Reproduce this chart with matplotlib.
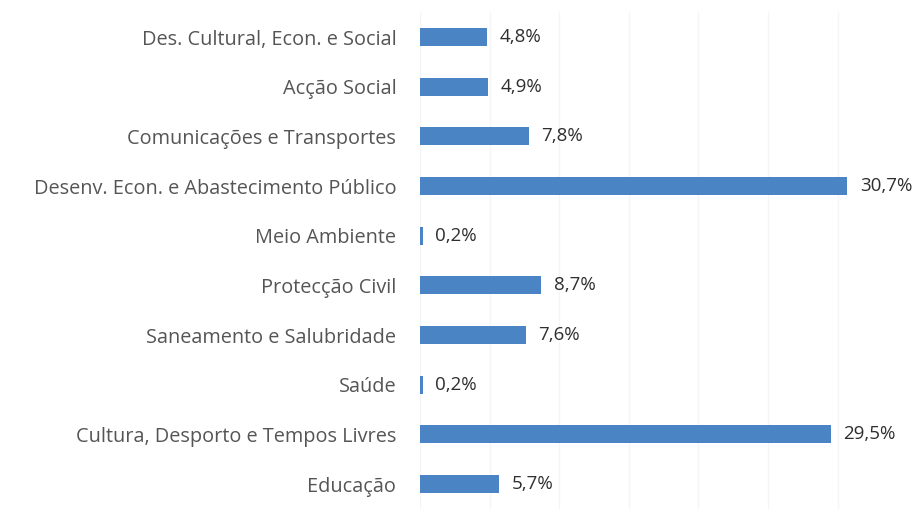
import matplotlib
matplotlib.use("Agg")
import matplotlib.pyplot as plt

categories = [
    "Des. Cultural, Econ. e Social",
    "Acção Social",
    "Comunicações e Transportes",
    "Desenv. Econ. e Abastecimento Público",
    "Meio Ambiente",
    "Protecção Civil",
    "Saneamento e Salubridade",
    "Saúde",
    "Cultura, Desporto e Tempos Livres",
    "Educação",
]
values = [4.8, 4.9, 7.8, 30.7, 0.2, 8.7, 7.6, 0.2, 29.5, 5.7]
value_labels = ["4,8%", "4,9%", "7,8%", "30,7%", "0,2%", "8,7%", "7,6%", "0,2%", "29,5%", "5,7%"]
x_ticks = [0, 5, 10, 15, 20, 25, 30, 35]

plt.rcParams['font.family'] = ['Open Sans', 'DejaVu Sans']

fig = plt.figure(figsize=(9.21, 5.29), dpi=100)
ax = fig.add_axes([0.456, 0.038, 0.529, 0.939])

y = list(range(len(categories)))
ax.barh(y, values, height=0.36, color="#4A84C4", zorder=3)
ax.set_ylim(len(categories) - 0.5, -0.5)
ax.set_xlim(0, 35)
ax.set_xticks(x_ticks)
ax.set_xticklabels([])
ax.tick_params(axis='x', length=0)
ax.tick_params(axis='y', length=0, pad=17, labelsize=14.3, labelcolor="#555555")
ax.set_yticks(y)
ax.set_yticklabels(categories)
ax.grid(axis='x', color="#f5f5f5", linewidth=1, zorder=0)
for s in ax.spines.values():
    s.set_visible(False)

for yi, v, lab in zip(y, values, value_labels):
    ax.annotate(lab, (v, yi), xytext=(9, 0), textcoords="offset points",
                va="center", ha="left", fontsize=13.5, color="#2e2e2e")

fig.savefig("out.png", dpi=100)
